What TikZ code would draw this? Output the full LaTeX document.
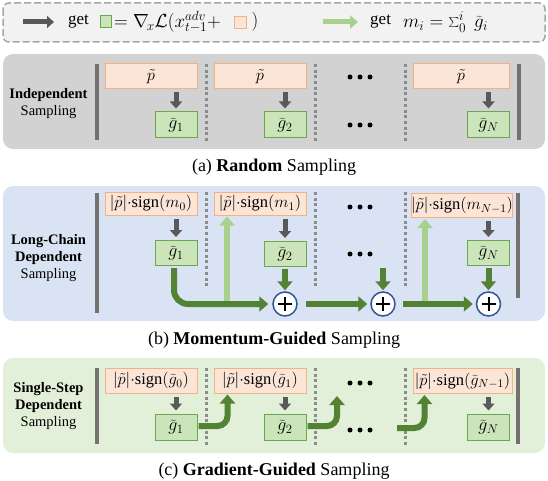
\RequirePackage{fix-cm}
\documentclass[tikz,border=0pt]{standalone}
\usepackage{fontspec}
\setmainfont{Liberation Serif}
\usetikzlibrary{arrows.meta,calc}
\definecolor{obox}{HTML}{FBE5D6}
\definecolor{oline}{HTML}{F4B183}
\definecolor{gbox}{HTML}{CBE4B9}
\definecolor{gline}{HTML}{6AA84F}
\definecolor{darkg}{HTML}{548235}
\definecolor{lightg}{HTML}{A9D18E}
\definecolor{darka}{HTML}{595959}
\definecolor{barc}{HTML}{767171}
\definecolor{sepc}{HTML}{8C8C8C}
\definecolor{pa}{HTML}{D3D2D2}
\definecolor{pb}{HTML}{DAE3F3}
\definecolor{pc}{HTML}{E2F0D9}
\definecolor{legf}{HTML}{F2F2F2}
\definecolor{legl}{HTML}{A6A6A6}
\definecolor{circc}{HTML}{2F5597}
\tikzset{
  ob/.style={draw=oline, fill=obox, line width=1pt, minimum width=92pt, minimum height=24pt, inner sep=0pt, font=\fontsize{16.5}{18}\selectfont},
  gb/.style={draw=gline, fill=gbox, line width=1pt, minimum width=42pt, minimum height=26pt, inner sep=0pt, font=\fontsize{18}{20}\selectfont},
  darr/.style={draw=darka, line width=5pt, -{Triangle[width=12pt,length=7pt]}},
  garr/.style={draw=darkg, line width=6pt, -{Triangle[width=15pt,length=9pt]}},
  larr/.style={draw=lightg, line width=6pt, -{Triangle[width=15pt,length=9pt]}},
  vbar/.style={draw=barc, line width=4pt},
  sepl/.style={draw=sepc, line width=3pt, dash pattern=on 3pt off 2.7pt},
  pluscirc/.style={circle, draw=circc, line width=1.5pt, fill=white, minimum size=24pt, inner sep=0pt,
    path picture={\draw[black,line width=2pt]
      ([xshift=-7pt]path picture bounding box.center) -- ([xshift=7pt]path picture bounding box.center)
      ([yshift=-7pt]path picture bounding box.center) -- ([yshift=7pt]path picture bounding box.center);}},
  lab/.style={align=center, font=\fontsize{14.5}{17}\selectfont},
  captxt/.style={font=\fontsize{18}{21}\selectfont},
  dotn/.style={circle, fill=black, minimum size=5pt, inner sep=0pt},
  leg/.style={font=\fontsize{17}{20}\selectfont, inner sep=0pt},
  legm/.style={font=\fontsize{19}{21}\selectfont, inner sep=0pt},
}
\begin{document}
\begin{tikzpicture}[x=1pt,y=-1pt]
\useasboundingbox (0,0) rectangle (548,481);

% ---------------- legend ----------------
\draw[legl, dash pattern=on 7pt off 3pt, line width=1.5pt, fill=legf, rounded corners=6pt] (3,3) rectangle (545,42);
\coordinate (la1) at (23,22);
\coordinate (la2) at (54,22);
\draw[darr] (la1) -- (la2);
\node[leg, anchor=west] (lget1) at (68,21.5) {get};
\node[draw=gline, fill=gbox, line width=1pt, minimum width=11pt, minimum height=12pt, inner sep=0pt] (lgb) at (105.5,22) {};
\node[legm, anchor=west] (lform) at (114,22) {$= \nabla_{\!x} \mathcal{L}(x^{adv}_{t-1} +$};
\node[draw=oline, fill=obox, line width=1pt, minimum width=12pt, minimum height=12pt, inner sep=0pt] (lob) at (240,22.5) {};
\node[legm] (lpar) at (255,22) {$)$};
\coordinate (lb1) at (323,22);
\coordinate (lb2) at (358,22);
\draw[draw=lightg, line width=5pt, -{Triangle[width=13pt,length=8pt]}] (lb1) -- (lb2);
\node[leg, anchor=west] (lget2) at (370,21.5) {get};
\node[legm, anchor=west] (lmi) at (403,22) {$m_i = \sum\nolimits_0^i\ \widetilde{g}_i$};

% ---------------- panel (a) ----------------
\fill[pa, rounded corners=10pt] (3,54) rectangle (545,149);
\node[lab] (laba) at (48.5,104) {\textbf{Independent}\\Sampling};
\draw[vbar] (97,64) -- (97,140);
\draw[vbar] (519,64) -- (519,140);
\draw[sepl] (206,64) -- (206,142);
\draw[sepl] (315,64) -- (315,142);
\draw[sepl] (405,64) -- (405,142);
\node[ob, minimum height=25pt] (oa1) at (151,76.5) {$\tilde{p}$};
\node[ob, minimum height=25pt] (oa2) at (260,76.5) {$\tilde{p}$};
\node[ob, minimum height=25pt, minimum width=96pt] (oa4) at (461,76.5) {$\tilde{p}$};
\node[gb] (ga1) at (176,125) {$\widetilde{g}_1$};
\node[gb] (ga2) at (285,125) {$\widetilde{g}_2$};
\node[gb] (gaN) at (488.5,125) {$\widetilde{g}_N$};
\draw[darr, shorten <=3pt, shorten >=3pt] (oa1.south -| ga1.north) -- (ga1.north);
\draw[darr, shorten <=3pt, shorten >=3pt] (oa2.south -| ga2.north) -- (ga2.north);
\draw[darr, shorten <=3pt, shorten >=3pt] (oa4.south -| gaN.north) -- (gaN.north);
\foreach \i/\yy in {1/77,2/125} {
  \node[dotn] (da\i a) at (350,\yy) {};
  \node[dotn] (da\i b) at (360,\yy) {};
  \node[dotn] (da\i c) at (370,\yy) {};
}
\node[captxt] (capa) at (274,167.5) {(a) \textbf{Random} Sampling};

% ---------------- panel (b) ----------------
\fill[pb, rounded corners=10pt] (3,186) rectangle (545,321);
\node[lab] (labb) at (48.5,258) {\textbf{Long-Chain}\\\textbf{Dependent}\\Sampling};
\draw[vbar] (97,193) -- (97,313);
\draw[vbar] (518,193) -- (518,298);
\draw[sepl] (206,192) -- (206,287);
\draw[sepl] (315,192) -- (315,287);
\draw[sepl] (405,192) -- (405,287);
\node[ob, minimum height=23pt] (ob1) at (151,203.5) {$|\tilde{p}|{\cdot}\mathrm{sign}(m_0)$};
\node[ob, minimum height=23pt] (ob2) at (260,203.5) {$|\tilde{p}|{\cdot}\mathrm{sign}(m_1)$};
\node[ob, minimum width=100pt] (ob4) at (462,205.5) {$|\tilde{p}|{\cdot}\mathrm{sign}(m_{N-1})$};
\node[gb, minimum height=25pt] (gb1) at (176,253) {$\widetilde{g}_1$};
\node[gb, minimum height=25pt] (gb2) at (285,254) {$\widetilde{g}_2$};
\node[gb, minimum height=25pt] (gbN) at (488.5,253) {$\widetilde{g}_N$};
\draw[darr, shorten <=3pt, shorten >=3pt] (ob1.south -| gb1.north) -- (gb1.north);
\draw[darr, shorten <=3pt, shorten >=3pt] (ob2.south -| gb2.north) -- (gb2.north);
\draw[darr, shorten <=3pt, shorten >=3pt] (ob4.south -| gbN.north) -- (gbN.north);
\foreach \i/\yy in {1/207,2/254} {
  \node[dotn] (db\i a) at (350,\yy) {};
  \node[dotn] (db\i b) at (360,\yy) {};
  \node[dotn] (db\i c) at (370,\yy) {};
}
\node[pluscirc] (c1) at (285,304) {};
\node[pluscirc] (c2) at (383,304) {};
\node[pluscirc] (c3) at (488.5,304) {};
\coordinate (u1) at (227,304);
\coordinate (u2) at (425,304);
\draw[larr, shorten >=1pt] (u1) -- (u1 |- ob2.south);
\draw[larr, shorten >=1pt] (u2) -- (u2 |- ob4.south);
\draw[garr, rounded corners=14pt, shorten <=2pt, shorten >=4pt] ([xshift=-2pt]gb1.south) |- (c1.west);
\draw[garr, shorten <=2pt, shorten >=1pt] (gb2.south) -- (c1.north);
\draw[garr, shorten <=8pt, shorten >=3pt] (c1.east) -- (c2.west);
\coordinate (d2) at (383,268);
\draw[garr, shorten >=1pt] (d2) -- (c2.north);
\draw[garr, shorten <=7pt, shorten >=3pt] (c2.east) -- (c3.west);
\draw[garr, shorten <=2pt, shorten >=1pt] (gbN.south) -- (c3.north);
\node[captxt] (capb) at (274,340) {(b) \textbf{Momentum-Guided} Sampling};

% ---------------- panel (c) ----------------
\fill[pc, rounded corners=10pt] (3,358) rectangle (545,453);
\node[lab] (labc) at (48.5,406) {\textbf{Single-Step}\\\textbf{Dependent}\\Sampling};
\draw[vbar] (97,368) -- (97,444);
\draw[vbar] (518,368) -- (518,444);
\draw[sepl] (206,368) -- (206,446);
\draw[sepl] (315,368) -- (315,446);
\draw[sepl] (405,368) -- (405,446);
\node[ob, minimum height=25pt] (oc1) at (151,380.5) {$|\tilde{p}|{\cdot}\mathrm{sign}(\widetilde{g}_0)$};
\node[ob, minimum height=25pt] (oc2) at (260,380.5) {$|\tilde{p}|{\cdot}\mathrm{sign}(\widetilde{g}_1)$};
\node[ob, minimum height=25pt, minimum width=99pt] (oc4) at (462.5,381) {$|\tilde{p}|{\cdot}\mathrm{sign}(\widetilde{g}_{N-1})$};
\node[gb] (gc1) at (176,427) {$\widetilde{g}_1$};
\node[gb] (gc2) at (285,427) {$\widetilde{g}_2$};
\node[gb] (gcN) at (488.5,427) {$\widetilde{g}_N$};
\draw[darr, shorten <=3pt, shorten >=3pt] (oc1.south -| gc1.north) -- (gc1.north);
\draw[darr, shorten <=3pt, shorten >=3pt] (oc2.south -| gc2.north) -- (gc2.north);
\draw[darr, shorten <=3pt, shorten >=3pt] (oc4.south -| gcN.north) -- (gcN.north);
\foreach \i/\yy in {1/383,2/430} {
  \node[dotn] (dc\i a) at (350,\yy) {};
  \node[dotn] (dc\i b) at (360,\yy) {};
  \node[dotn] (dc\i c) at (370,\yy) {};
}
\coordinate (t2) at (337,396);
\coordinate (s3) at (397,428);
\draw[garr, rounded corners=10pt, shorten <=1pt, shorten >=1pt] ([yshift=1pt]gc1.east) -| ([xshift=14pt]oc2.south west);
\draw[garr, rounded corners=10pt, shorten <=1pt] ([yshift=1pt]gc2.east) -| (t2);
\draw[garr, rounded corners=10pt, shorten >=1pt] (s3) -| ([xshift=12pt]oc4.south west);
\node[captxt] (capc) at (274,471) {(c) \textbf{Gradient-Guided} Sampling};
\end{tikzpicture}
\end{document}
